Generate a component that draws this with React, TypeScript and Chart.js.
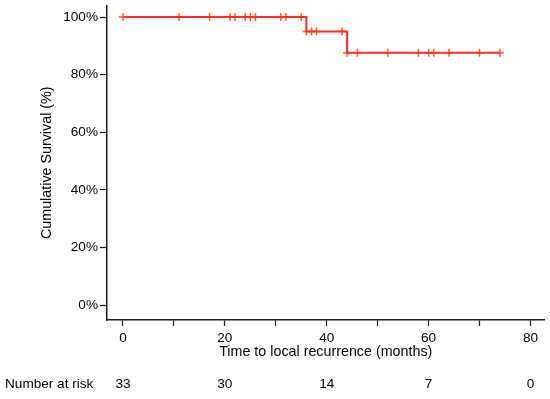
import React, { useEffect, useRef } from "react";
import { Chart, registerables } from "chart.js";

Chart.register(...registerables);

// Kaplan-Meier step curve (event times and survival after each step)
const stepTimes = [0, 36, 44, 74];
const stepSurvival = [100, 95.0, 87.6, 87.6];

// Censored observations
const censorTimes = [0, 11, 17, 21, 22, 24, 25, 26, 31, 32, 35, 36, 37, 38, 43, 44, 46, 52, 58, 60, 61, 64, 70, 74];
const censorSurvival = [
  100, 100, 100, 100, 100, 100, 100, 100, 100, 100, 100,
  95.0, 95.0, 95.0, 95.0,
  87.6, 87.6, 87.6, 87.6, 87.6, 87.6, 87.6, 87.6, 87.6,
];

// Number at risk table
const riskTimes = [0, 20, 40, 60, 80];
const riskCounts = ["33", "30", "14", "7", "0"];

const xTickValues = [0, 10, 20, 30, 40, 50, 60, 70, 80];
const xLabelValues = [0, 20, 40, 60, 80];
const yTickValues = [0, 20, 40, 60, 80, 100];

const FONT = "'Liberation Sans', Arial, Helvetica, sans-serif";
const TICK_SIZE = 13.6;
const TITLE_SIZE = 14.3;

export default function App() {
  const ref = useRef<HTMLCanvasElement | null>(null);

  useEffect(() => {
    document.body.style.margin = "0";
    const canvas = ref.current;
    if (!canvas) return;

    const riskPlugin = {
      id: "riskTable",
      afterDraw(chart: any) {
        const ctx = chart.ctx;
        const xs = chart.scales.x;
        ctx.save();
        ctx.fillStyle = "#000";
        ctx.font = `${TICK_SIZE}px ${FONT}`;
        ctx.textBaseline = "middle";
        ctx.textAlign = "left";
        ctx.fillText("Number at risk", 5, 384);
        ctx.textAlign = "center";
        riskTimes.forEach((t, i) => {
          ctx.fillText(riskCounts[i], xs.getPixelForValue(t), 384);
        });
        ctx.restore();
      },
    };

    const chart = new Chart(canvas, {
      type: "scatter",
      data: {
        datasets: [
          {
            type: "line",
            label: "KM",
            data: stepTimes.map((t, i) => ({ x: t, y: stepSurvival[i] })),
            borderColor: "rgb(255,45,40)",
            borderWidth: 2,
            stepped: "before",
            pointRadius: 0,
            fill: false,
          } as any,
          {
            type: "scatter",
            label: "Censored",
            data: censorTimes.map((t, i) => ({ x: t, y: censorSurvival[i] })),
            pointStyle: "cross",
            pointRadius: 4,
            borderColor: "rgb(255,95,35)",
            backgroundColor: "rgb(255,95,35)",
            borderWidth: 1.5,
            showLine: false,
          } as any,
        ],
      },
      options: {
        responsive: false,
        animation: false,
        layout: { padding: { top: 0, right: 5, left: 0, bottom: 0 } },
        plugins: {
          legend: { display: false },
          tooltip: { enabled: false },
        },
        scales: {
          x: {
            type: "linear",
            min: -3.14,
            max: 82.75,
            afterBuildTicks: (s: any) => {
              s.ticks = xTickValues.map((v) => ({ value: v }));
            },
            afterFit: (s: any) => {
              s.height = 79;
              s.paddingLeft = 0;
              s.paddingRight = 0;
            },
            border: { display: true, color: "#1a1a1a", width: 1.5 },
            grid: {
              display: true,
              drawOnChartArea: false,
              drawTicks: true,
              tickLength: 6,
              tickColor: "#1a1a1a",
              tickWidth: 1.2,
            },
            ticks: {
              color: "#000",
              padding: 4,
              maxRotation: 0,
              autoSkip: false,
              font: { family: FONT, size: TICK_SIZE },
              callback: (v: any) => (xLabelValues.includes(Number(v)) ? String(v) : ""),
            },
            title: {
              display: true,
              text: "Time to local recurrence (months)",
              color: "#000",
              font: { family: FONT, size: TITLE_SIZE },
              padding: { top: 0, bottom: 38 },
            },
          },
          y: {
            type: "linear",
            min: -5.2,
            max: 104.0,
            afterBuildTicks: (s: any) => {
              s.ticks = yTickValues.map((v) => ({ value: v }));
            },
            afterFit: (s: any) => {
              s.width = 107;
              s.paddingTop = 0;
              s.paddingBottom = 0;
            },
            border: { display: true, color: "#1a1a1a", width: 1.5 },
            grid: {
              display: true,
              drawOnChartArea: false,
              drawTicks: true,
              tickLength: 7,
              tickColor: "#1a1a1a",
              tickWidth: 1.2,
            },
            ticks: {
              color: "#000",
              padding: 2,
              font: { family: FONT, size: TICK_SIZE },
              callback: (v: any) => `${v}%`,
            },
            title: {
              display: true,
              text: "Cumulative Survival (%)",
              color: "#000",
              font: { family: FONT, size: TITLE_SIZE },
              padding: { top: 38, bottom: 0 },
            },
          },
        },
      },
      plugins: [riskPlugin],
    });

    return () => chart.destroy();
  }, []);

  return (
    <div style={{ position: "absolute", left: 0, top: 0, width: 550, height: 399, background: "#fff" }}>
      <canvas ref={ref} width={550} height={399} />
    </div>
  );
}
